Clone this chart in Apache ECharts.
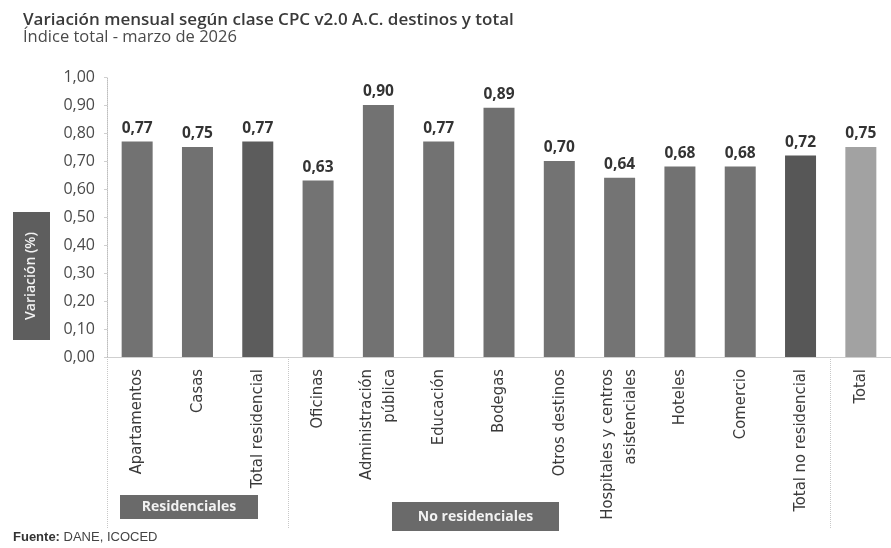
<!DOCTYPE html>
<html>
<head>
<meta charset="utf-8">
<script src="https://cdn.jsdelivr.net/npm/echarts@6/dist/echarts.min.js"></script>
<style>html,body{margin:0;padding:0;background:#fff;}#c{width:891px;height:548px;}</style>
</head>
<body>
<div id="c"></div>
<script>
const categories = ['Apartamentos','Casas','Total residencial','Oficinas','Administración\npública','Educación','Bodegas','Otros destinos','Hospitales y centros\nasistenciales','Hoteles','Comercio','Total no residencial','Total'];
const values = [0.77,0.75,0.77,0.63,0.90,0.77,0.89,0.70,0.64,0.68,0.68,0.72,0.75];
const barColors = ['#727272','#717171','#5c5c5c','#737373','#727272','#727272','#707070','#737373','#747474','#727272','#737373','#575757','#a2a2a2'];
const yTicks = {min:0, max:1, interval:0.1};
const separatorIdx = [0,3,12,13];
const titleText = 'Variación mensual según clase CPC v2.0 A.C. destinos y total';
const subtitleText = 'Índice total - marzo de 2026';
const yName = 'Variación (%)';
const groupNames = ['Residenciales','No residenciales'];
const sourceText = 'DANE, ICOCED';

const chart = echarts.init(document.getElementById('c'));
const fmt = v => v.toFixed(2).replace('.', ',');
chart.setOption({
  backgroundColor:'#ffffff',
  animation:false,
  title:{
    text:titleText, subtext:subtitleText, left:18, top:7, itemGap:0,
    textStyle:{fontFamily:'Open Sans', fontSize:17, fontWeight:600, color:'#3a3a3a'},
    subtextStyle:{fontFamily:'Open Sans', fontSize:16.5, color:'#4a4a4a'}
  },
  grid:{left:107, right:-9, top:77, bottom:191, containLabel:false},
  xAxis:{
    type:'category', data:categories,
    axisLine:{lineStyle:{color:'#cfcfcf', width:1}},
    axisTick:{show:true, length:172, interval:(i)=>separatorIdx.indexOf(i)>=0, lineStyle:{color:'#c8c8c8', type:'dotted'}},
    axisLabel:{rotate:90, interval:0, margin:12, fontFamily:'Liberation Sans Narrow, DejaVu Sans Condensed, sans-serif', fontSize:16.5, color:'#3a3a3a', lineHeight:23, align:'right'}
  },
  yAxis:{
    type:'value', min:yTicks.min, max:yTicks.max, interval:yTicks.interval,
    axisLine:{show:true, lineStyle:{color:'#bdbdbd', type:'dotted'}},
    axisTick:{show:true, length:3, lineStyle:{color:'#cfcfcf'}},
    splitLine:{show:false},
    axisLabel:{formatter:fmt, margin:12, fontFamily:'Open Sans', fontSize:16, color:'#4a4a4a'}
  },
  series:[{
    type:'bar', barWidth:31,
    data:values.map((v,i)=>({value:v, itemStyle:{color:barColors[i]}})),
    label:{show:true, position:'top', distance:5, formatter:p=>fmt(p.value), fontFamily:'Open Sans', fontWeight:'bold', fontSize:15.5, color:'#333'}
  }],
  graphic:[
    {type:'rect', left:13, top:212, shape:{width:37, height:128}, style:{fill:'#5e5e5e'}},
    {type:'text', x:31.5, y:276, rotation:Math.PI/2, style:{text:yName, fill:'#f2f2f2', font:'600 14px "Open Sans"', textAlign:'center', textVerticalAlign:'middle'}},
    {type:'rect', left:120, top:495, shape:{width:138, height:24}, style:{fill:'#6a6a6a'}},
    {type:'text', x:189, y:507, style:{text:groupNames[0], fill:'#f2f2f2', font:'bold 14px "Open Sans"', textAlign:'center', textVerticalAlign:'middle'}},
    {type:'rect', left:392, top:502, shape:{width:167, height:29}, style:{fill:'#6a6a6a'}},
    {type:'text', x:475.5, y:517, style:{text:groupNames[1], fill:'#f2f2f2', font:'bold 14px "Open Sans"', textAlign:'center', textVerticalAlign:'middle'}},
    {type:'text', left:13, top:531, style:{text:'{b|Fuente:} ' + sourceText, rich:{b:{fontWeight:'bold', fontFamily:'Liberation Sans', fontSize:13, fill:'#333'}}, font:'13px "Liberation Sans"', fill:'#444'}}
  ]
});
</script>
</body>
</html>
